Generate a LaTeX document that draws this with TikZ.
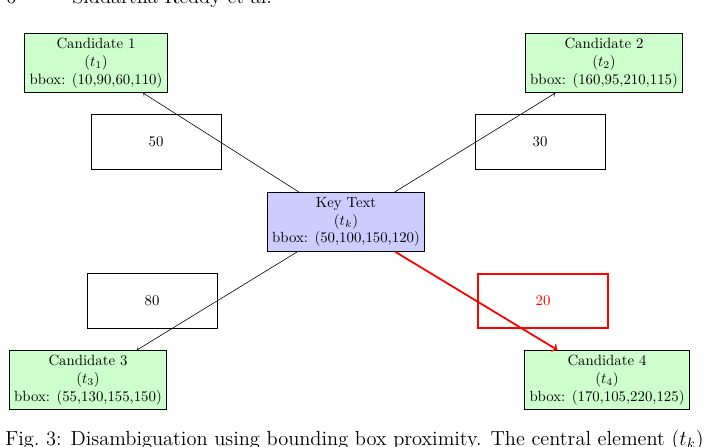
\documentclass[tikz,border=0pt]{standalone}
\usepackage{amsmath}

\begin{document}
\begin{tikzpicture}[x=0.6757pt, y=-0.6757pt,
	cand/.style={draw, fill=green!20, align=center},
	keytext/.style={draw, fill=blue!20, align=center},
	dist/.style={draw, minimum width=88pt, minimum height=37pt},
	pagetext/.style={anchor=base west, inner sep=0, font=\fontsize{13.8}{16}\selectfont}]
	\useasboundingbox (0, 0) rectangle (720, 446);

	% running head and caption, cut by the page edge
	\begin{scope}
		\clip (0, 0) rectangle (720, 446);
		\node[pagetext] (pagenum) at (6, 3) {6};
		\node[pagetext] (runhead) at (72, 3) {Siddartha Reddy et al.};
		\node[pagetext] (caption) at (5, 445)
			{Fig.~3: Disambiguation using bounding box proximity. The central element ($t_k$)};
	\end{scope}

	% key text
	\node[keytext] (kt) at (346, 222) {Key Text\\($t_k$)\\bbox: (50,100,150,120)};

	% candidates
	\node[cand] (c1) at (96, 63) {Candidate 1\\($t_1$)\\bbox: (10,90,60,110)};
	\node[cand] (c2) at (604, 63) {Candidate 2\\($t_2$)\\bbox: (160,95,210,115)};
	\node[cand] (c3) at (88, 380) {Candidate 3\\($t_3$)\\bbox: (55,130,155,150)};
	\node[cand] (c4) at (607, 380) {Candidate 4\\($t_4$)\\bbox: (170,105,220,125)};

	% distances
	\node[dist] (d1) at (156, 142) {50};
	\node[dist] (d2) at (540, 142) {30};
	\node[dist] (d3) at (152, 301) {80};
	\node[dist, draw=red, text=red, very thick] (d4) at (543, 301) {20};

	% links
	\draw[->] (kt) -- (c1);
	\draw[->] (kt) -- (c2);
	\draw[->] (kt) -- (c3);
	\draw[->, red, very thick] (kt) -- (c4);
\end{tikzpicture}
\end{document}
